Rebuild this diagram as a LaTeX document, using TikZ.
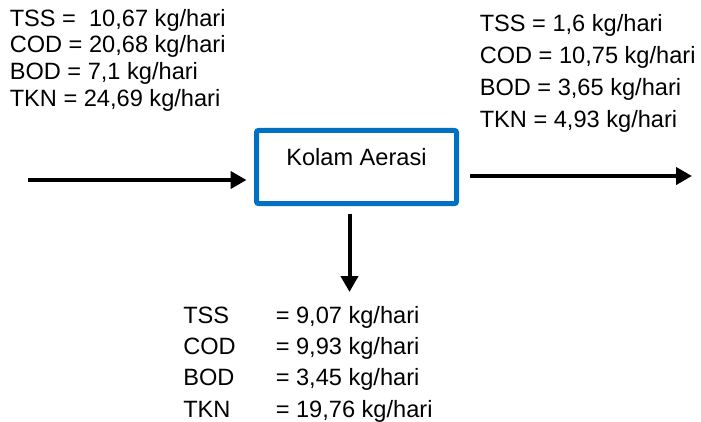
\documentclass[tikz,border=0pt]{standalone}
\usepackage{fontspec}
\setmainfont{Liberation Sans}
\usetikzlibrary{arrows.meta}
\definecolor{boxblue}{HTML}{0070C0}

\begin{document}
\begin{tikzpicture}[x=0.75pt,y=-0.75pt,
  font=\fontsize{17.7}{20}\selectfont,
  txt/.style={anchor=base west, inner sep=0pt},
  flow/.style={line width=3pt, -{Triangle[length=12pt,width=12.75pt]}}]
\useasboundingbox (0,0) rectangle (701,422);
% kolam
\node[draw=boxblue, line width=3.75pt, rounded corners=1.5pt, inner sep=0pt,
  minimum width=150pt, text height=25.9pt, text depth=28.9pt] (aerasi) at (356.5,167) {Kolam Aerasi};
% inlet
\node[txt] (inTSS) at (9.5,26) {TSS = \ 10,67 kg/hari};
\node[txt] (inCOD) at (9.5,52.7) {COD = 20,68 kg/hari};
\node[txt] (inBOD) at (9.5,79.3) {BOD = 7,1 kg/hari};
\node[txt] (inTKN) at (9.5,106) {TKN = 24,69 kg/hari};
% effluent
\node[txt] (efTSS) at (479.5,31) {TSS = 1,6 kg/hari};
\node[txt] (efCOD) at (479.5,63) {COD = 10,75 kg/hari};
\node[txt] (efBOD) at (479.5,95) {BOD = 3,65 kg/hari};
\node[txt] (efTKN) at (479.5,127) {TKN = 4,93 kg/hari};
% lumpur
\node[txt] (slTSS) at (183,323) {TSS};
\node[txt] (slCOD) at (183,354.3) {COD};
\node[txt] (slBOD) at (183,385.7) {BOD};
\node[txt] (slTKN) at (183,417) {TKN};
\node[txt] (slTSSv) at (275.5,323) {= 9,07 kg/hari};
\node[txt] (slCODv) at (275.5,354.3) {= 9,93 kg/hari};
\node[txt] (slBODv) at (275.5,385.7) {= 3,45 kg/hari};
\node[txt] (slTKNv) at (275.5,417) {= 19,76 kg/hari};
% arrows
\coordinate (in) at (28,180);
\coordinate (out) at (692,176);
\coordinate (sludge) at (349.5,292);
\draw[flow, shorten >=5.6pt] (in) -- (in -| aerasi.west);
\draw[flow, shorten <=8.6pt] (out -| aerasi.east) -- (out);
\draw[flow, shorten <=5.6pt] (sludge |- aerasi.south) -- (sludge);
\end{tikzpicture}
\end{document}
